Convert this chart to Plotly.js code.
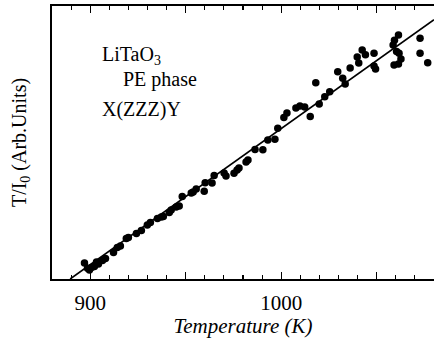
<!DOCTYPE html>
<html>
<head>
<meta charset="utf-8">
<script src="https://cdn.plot.ly/plotly-3.0.1.min.js"></script>
<style>html,body{margin:0;padding:0;background:#fff;}#chart{width:434px;height:338px;}</style>
</head>
<body>
<div id="chart"></div>
<script>
// Measured points: temperature (K) and T/I0 (arbitrary units)
var temperature = [897.0, 898.6, 899.6, 900.7, 902.2, 903.3, 904.3, 906.4, 908.0, 912.2,
  914.2, 915.8, 918.9, 920.0, 924.2, 926.8, 929.9, 931.5, 935.2, 937.2,
  938.3, 941.4, 942.4, 945.0, 946.6, 948.2, 952.9, 953.9, 955.5, 959.7,
  960.2, 963.8, 964.9, 970.1, 971.1, 975.3, 976.9, 977.9, 981.6, 982.6,
  986.3, 990.4, 993.0, 996.7, 998.2, 1001.4, 1003.0, 1007.7, 1009.8, 1012.3,
  1015.2, 1018.1, 1019.9, 1022.8, 1025.4, 1029.6, 1032.2, 1033.5, 1036.1, 1039.8,
  1040.6, 1042.4, 1044.1, 1048.6, 1048.6, 1049.4, 1058.6, 1059.3, 1061.4, 1060.4,
  1061.7, 1062.7, 1059.1, 1061.4, 1072.7, 1072.7, 1076.7];
var intensity = [0.59, 0.39, 0.33, 0.42, 0.46, 0.62, 0.55, 0.68, 0.75, 0.97,
  1.15, 1.21, 1.48, 1.52, 1.67, 1.78, 1.98, 2.07, 2.22, 2.27,
  2.29, 2.44, 2.53, 2.64, 2.67, 3.02, 3.15, 3.19, 3.30, 3.21,
  3.53, 3.52, 3.79, 3.88, 3.77, 3.87, 3.99, 4.07, 4.29, 4.36,
  4.74, 4.73, 5.09, 5.12, 5.52, 5.92, 6.08, 6.26, 6.34, 6.30,
  5.95, 7.19, 6.41, 6.68, 6.86, 7.59, 7.35, 7.14, 7.73, 8.13,
  7.91, 8.39, 8.21, 8.27, 7.80, 7.69, 8.57, 8.75, 8.94, 8.33,
  8.27, 8.06, 7.84, 7.88, 8.82, 8.27, 7.92];
// Fitted straight line
var fitT = [889.5, 1080];
var fitY = [0, 9.5];
// Labelled major ticks and unlabelled major ticks
var labelTicks = [900, 1000];
var labelText = ['900', '1000'];
var plainMajorTicks = [950, 1050];

var serif = 'Liberation Serif, Times New Roman, serif';

var traces = [
  {x: fitT, y: fitY, mode: 'lines', line: {color: '#000', width: 1.6}, hoverinfo: 'skip', showlegend: false},
  {x: temperature, y: intensity, mode: 'markers', marker: {color: '#000', size: 7.5}, showlegend: false}
];

var layout = {
  width: 434, height: 338,
  margin: {l: 52, r: 0, t: 6, b: 59},
  paper_bgcolor: '#fff', plot_bgcolor: '#fff',
  showlegend: false,
  font: {family: serif, color: '#000', size: 20},
  xaxis: {
    range: [880, 1080],
    showgrid: false, zeroline: false,
    showline: true, linecolor: '#000', linewidth: 1.6, mirror: 'allticks',
    ticks: 'inside', tickcolor: '#000', ticklen: 7, tickwidth: 1.3,
    tickmode: 'array', tickvals: labelTicks, ticktext: labelText,
    ticklabelstandoff: 4,
    tickfont: {family: serif, size: 21, color: '#000'},
    minor: {dtick: 10, tick0: 880, ticks: 'inside', ticklen: 4, tickwidth: 1.1, tickcolor: '#000', showgrid: false},
    title: {text: 'Temperature (K)', font: {family: serif, size: 21, color: '#000', style: 'italic'}, standoff: 6}
  },
  xaxis2: {
    overlaying: 'x', matches: 'x', side: 'bottom',
    range: [880, 1080],
    showgrid: false, zeroline: false, showline: false, mirror: 'allticks',
    ticks: 'inside', tickcolor: '#000', ticklen: 7, tickwidth: 1.3,
    tickmode: 'array', tickvals: plainMajorTicks, showticklabels: false
  },
  yaxis: {
    range: [0, 10],
    showgrid: false, zeroline: false,
    showline: true, linecolor: '#000', linewidth: 1.6, mirror: true,
    ticks: '', showticklabels: false,
    title: {text: 'T/I<sub>0</sub> (Arb.Units)', font: {family: serif, size: 20, color: '#000'}, standoff: 18}
  },
  annotations: [
    {x: 0.125, y: 0.82, xref: 'paper', yref: 'paper', xanchor: 'left', yanchor: 'middle', showarrow: false,
     text: 'LiTaO<sub>3</sub>', font: {family: serif, size: 20, color: '#000'}},
    {x: 0.18, y: 0.73, xref: 'paper', yref: 'paper', xanchor: 'left', yanchor: 'middle', showarrow: false,
     text: 'PE phase', font: {family: serif, size: 20, color: '#000'}},
    {x: 0.125, y: 0.62, xref: 'paper', yref: 'paper', xanchor: 'left', yanchor: 'middle', showarrow: false,
     text: 'X(ZZZ)Y', font: {family: serif, size: 20, color: '#000'}}
  ]
};

// dummy invisible trace to activate xaxis2 for the unlabelled major ticks
traces.push({x: [880], y: [0], xaxis: 'x2', mode: 'markers', marker: {opacity: 0}, hoverinfo: 'skip', showlegend: false});

Plotly.newPlot('chart', traces, layout, {staticPlot: true, displayModeBar: false});
</script>
</body>
</html>
